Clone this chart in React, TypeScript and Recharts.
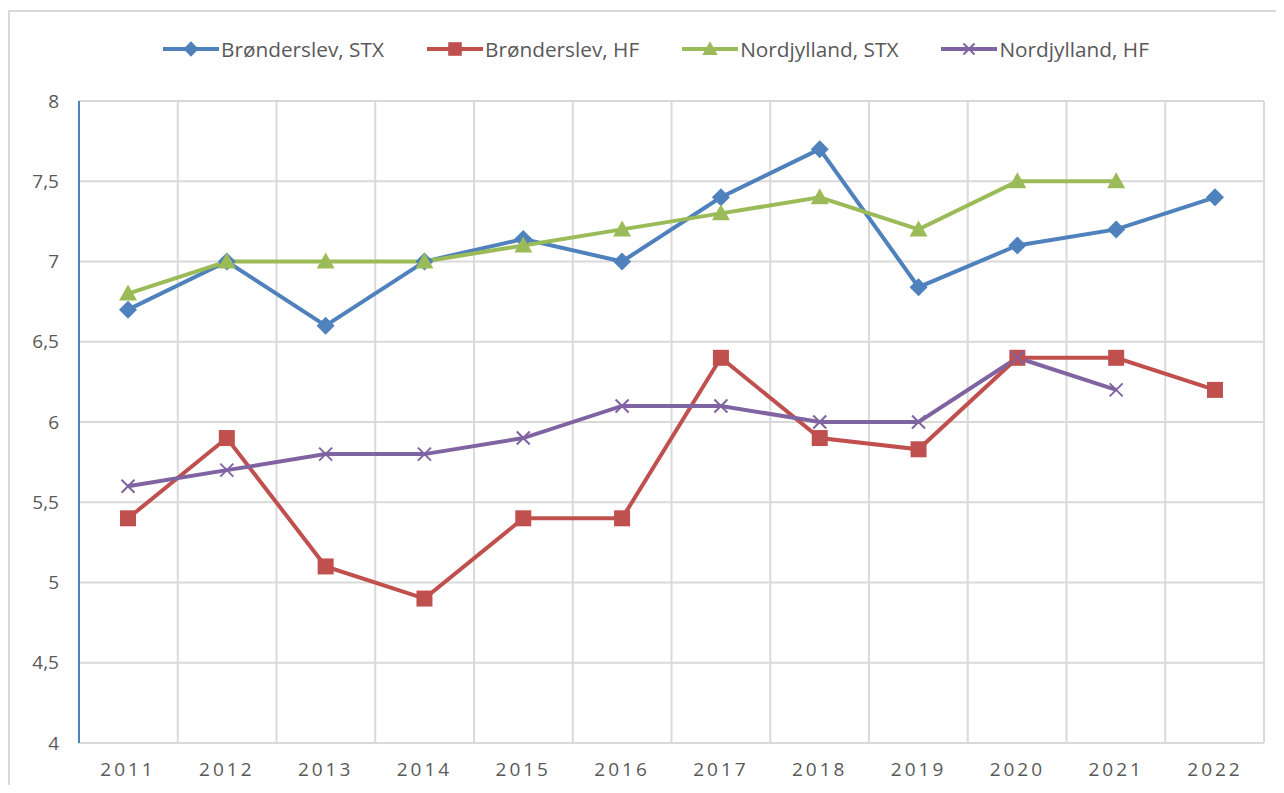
import React from "react";
import { LineChart, Line, XAxis, YAxis, CartesianGrid } from "recharts";

const years = ["2011", "2012", "2013", "2014", "2015", "2016", "2017", "2018", "2019", "2020", "2021", "2022"];
const bronderslevStx = [6.7, 7.0, 6.6, 7.0, 7.14, 7.0, 7.4, 7.7, 6.84, 7.1, 7.2, 7.4];
const bronderslevHf = [5.4, 5.9, 5.1, 4.9, 5.4, 5.4, 6.4, 5.9, 5.83, 6.4, 6.4, 6.2];
const nordjyllandStx = [6.8, 7.0, 7.0, 7.0, 7.1, 7.2, 7.3, 7.4, 7.2, 7.5, 7.5, null];
const nordjyllandHf = [5.6, 5.7, 5.8, 5.8, 5.9, 6.1, 6.1, 6.0, 6.0, 6.4, 6.2, null];
const yTicks = [4, 4.5, 5, 5.5, 6, 6.5, 7, 7.5, 8];

const BLUE = "#4F81BD";
const RED = "#C0504D";
const GREEN = "#9BBB59";
const PURPLE = "#8064A2";
const GRID = "#D9D9D9";
const TEXT = "#595959";
const FONT = "'Open Sans', sans-serif";

const data = years.map((year, i) => ({
  year,
  bStx: bronderslevStx[i],
  bHf: bronderslevHf[i],
  nStx: nordjyllandStx[i],
  nHf: nordjyllandHf[i],
}));

type Shape = "diamond" | "square" | "triangle" | "cross";

function marker(shape: Shape, cx: number, cy: number, color: string, s = 1) {
  if (shape === "diamond") {
    const r = 9 * s;
    return <polygon points={`${cx},${cy - r} ${cx + r},${cy} ${cx},${cy + r} ${cx - r},${cy}`} fill={color} />;
  }
  if (shape === "square") {
    const h = 8 * s;
    return <rect x={cx - h} y={cy - h} width={h * 2} height={h * 2} fill={color} />;
  }
  if (shape === "triangle") {
    const w = 9 * s;
    return <polygon points={`${cx},${cy - 9 * s} ${cx + w},${cy + 7 * s} ${cx - w},${cy + 7 * s}`} fill={color} />;
  }
  const h = 6.5 * s;
  return (
    <g stroke={color} strokeWidth={2}>
      <line x1={cx - h} y1={cy - h} x2={cx + h} y2={cy + h} />
      <line x1={cx - h} y1={cy + h} x2={cx + h} y2={cy - h} />
    </g>
  );
}

const makeDot = (shape: Shape, color: string) => (props: any) => {
  const { cx, cy, index, value } = props;
  if (value == null || cy == null) return <g key={`e-${index}`} />;
  return <g key={`d-${index}`}>{marker(shape, cx, cy, color)}</g>;
};

const series = [
  { key: "bStx", name: "Brønderslev, STX", color: BLUE, shape: "diamond" as Shape },
  { key: "bHf", name: "Brønderslev, HF", color: RED, shape: "square" as Shape },
  { key: "nStx", name: "Nordjylland, STX", color: GREEN, shape: "triangle" as Shape },
  { key: "nHf", name: "Nordjylland, HF", color: PURPLE, shape: "cross" as Shape },
];

export default function App() {
  return (
    <div style={{ position: "relative", width: 1276, height: 777, overflow: "hidden", fontFamily: FONT }}>
      <div
        style={{
          position: "absolute",
          left: 0,
          top: 2,
          width: 1290,
          height: 800,
          border: `2px solid ${GRID}`,
          background: "#fff",
        }}
      >
        <LineChart width={1290} height={800} data={data} margin={{ top: 89, right: 36, bottom: 29, left: 0 }}>
          <CartesianGrid
            stroke={GRID}
            strokeWidth={2}
            verticalCoordinatesGenerator={({ offset }: any) =>
              years.map((_, i) => offset.left + ((i + 1) * offset.width) / years.length)
            }
          />
          <XAxis
            dataKey="year"
            padding={{ left: 49, right: 49 }}
            axisLine={{ stroke: GRID, strokeWidth: 2 }}
            tickLine={false}
            tickMargin={14}
            height={40}
            interval={0}
            tick={{ fill: TEXT, fontSize: 19, fontFamily: FONT, letterSpacing: 3 }}
          />
          <YAxis
            domain={[4, 8]}
            ticks={yTicks}
            width={69}
            axisLine={{ stroke: BLUE, strokeWidth: 2 }}
            tickLine={false}
            tickMargin={14}
            tickFormatter={(v: number) => String(v).replace(".", ",")}
            tick={{ fill: TEXT, fontSize: 19, fontFamily: FONT }}
          />
          {series.map((s) => (
            <Line
              key={s.key}
              dataKey={s.key}
              name={s.name}
              stroke={s.color}
              strokeWidth={4}
              dot={makeDot(s.shape, s.color)}
              activeDot={false}
              isAnimationActive={false}
            />
          ))}
        </LineChart>
      </div>
      <div
        style={{
          position: "absolute",
          left: 154,
          top: 27,
          display: "flex",
          alignItems: "center",
          gap: 42,
          color: TEXT,
          fontSize: 20.8,
          whiteSpace: "nowrap",
        }}
      >
        {series.map((s) => (
          <div key={s.key} style={{ display: "flex", alignItems: "center" }}>
            <svg width={59} height={24}>
              <line x1={1} y1={12} x2={57} y2={12} stroke={s.color} strokeWidth={4} />
              {marker(s.shape, 29, 12, s.color, 0.85)}
            </svg>
            <span>{s.name}</span>
          </div>
        ))}
      </div>
    </div>
  );
}
